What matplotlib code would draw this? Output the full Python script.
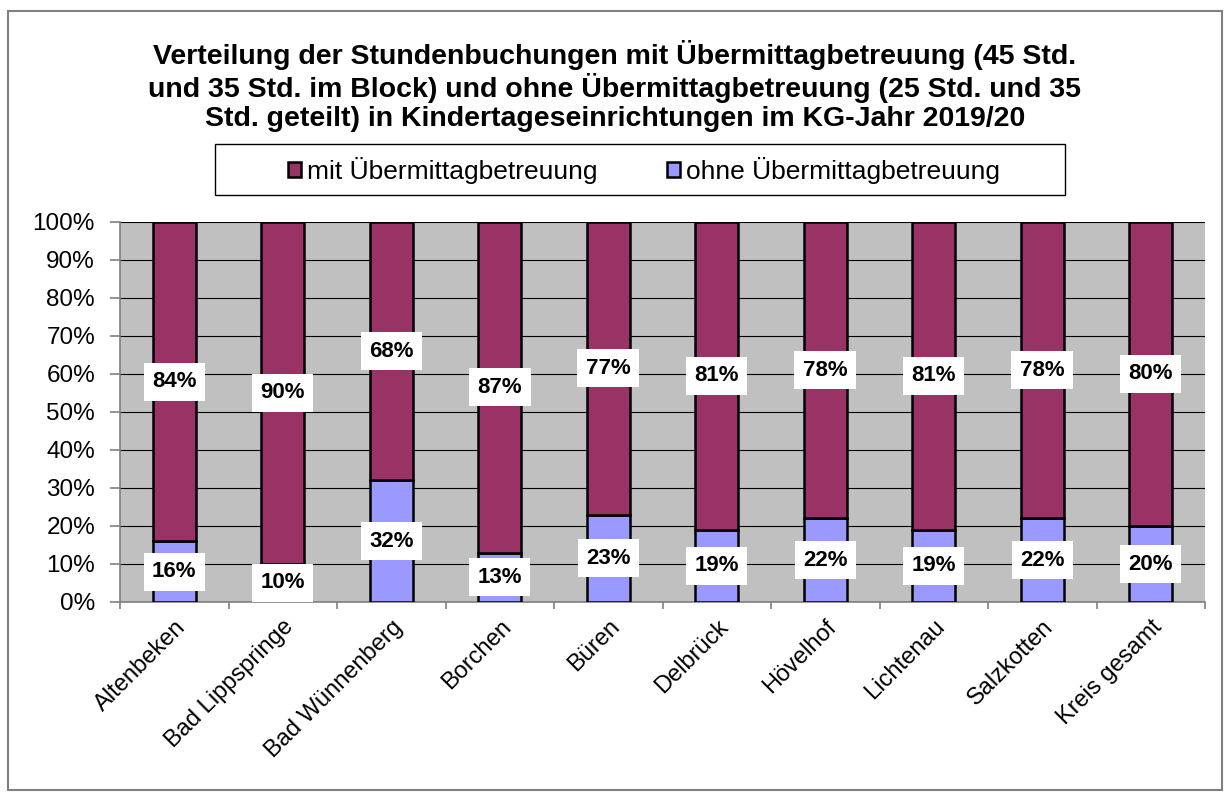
import numpy as np
import matplotlib
matplotlib.use("Agg")
import matplotlib.pyplot as plt
from matplotlib.patches import Rectangle

plt.rcParams['font.family'] = ['Liberation Sans', 'DejaVu Sans']

# data
gemeinden = ["Altenbeken", "Bad Lippspringe", "Bad Wünnenberg", "Borchen", "Büren",
             "Delbrück", "Hövelhof", "Lichtenau", "Salzkotten", "Kreis gesamt"]
ohne = [16, 10, 32, 13, 23, 19, 22, 19, 22, 20]
mit = [84, 90, 68, 87, 77, 81, 78, 81, 78, 80]
serien = ["mit Übermittagbetreuung", "ohne Übermittagbetreuung"]
titel = ("Verteilung der Stundenbuchungen mit Übermittagbetreuung (45 Std.\n"
         "und 35 Std. im Block) und ohne Übermittagbetreuung (25 Std. und 35\n"
         "Std. geteilt) in Kindertageseinrichtungen im KG-Jahr 2019/20")

c_mit = "#993366"
c_ohne = "#9999FF"

W, H = 1231, 801
fig = plt.figure(figsize=(W / 100, H / 100), dpi=100)
# outer chart border
fig.patches.append(Rectangle((8 / W, 11 / H), 1214 / W, 779 / H,
                             transform=fig.transFigure, fill=False,
                             edgecolor="#808080", linewidth=1.5))
# legend box
fig.patches.append(Rectangle((215 / W, 1 - 195 / H), 850 / W, 51 / H,
                             transform=fig.transFigure, fill=False,
                             edgecolor="black", linewidth=1.0))

ax = fig.add_axes([120 / W, 1 - 602 / H, 1085 / W, 380 / H])
ax.set_facecolor("#C0C0C0")

x = np.arange(len(gemeinden))
b1 = ax.bar(x, ohne, width=0.4, color=c_ohne, edgecolor="black", linewidth=1.8,
            label=serien[1], zorder=3)
b2 = ax.bar(x, mit, width=0.4, bottom=ohne, color=c_mit, edgecolor="black",
            linewidth=1.8, label=serien[0], zorder=3)

for i in range(len(gemeinden)):
    for val, y in ((ohne[i], ohne[i] / 2), (mit[i], ohne[i] + mit[i] / 2)):
        ax.text(x[i], y, f"{val}%", ha="center", va="center", fontsize=16,
                fontweight="bold", zorder=5,
                bbox=dict(boxstyle="square,pad=0.38", facecolor="white",
                          edgecolor="none"))

ax.set_xlim(-0.5, len(gemeinden) - 0.5)
ax.set_ylim(0, 100)
ax.set_yticks(np.arange(0, 101, 10))
ax.set_yticklabels([f"{v}%" for v in range(0, 101, 10)], fontsize=17.5)
ax.yaxis.grid(True, color="black", linewidth=0.8, zorder=1)
ax.set_axisbelow(True)

ax.set_xticks(x)
ax.set_xticklabels(gemeinden, rotation=45, ha="right", rotation_mode="anchor",
                   fontsize=17)
ax.tick_params(axis="x", length=0, pad=10)
ax.set_xticks(np.arange(-0.5, len(gemeinden), 1), minor=True)
ax.tick_params(axis="x", which="minor", length=5, color="#808080", width=1.2)
ax.tick_params(axis="y", length=7, color="#808080", width=1.2, pad=11)

for s in ("top", "right"):
    ax.spines[s].set_visible(False)
for s in ("left", "bottom"):
    ax.spines[s].set_color("#808080")
    ax.spines[s].set_linewidth(1.2)

fig.text(615 / W, 1 - 86 / H, titel, ha="center", va="center", fontsize=20.5,
         fontweight="bold", linespacing=1.12)

handles = [b2, b1]
leg = fig.legend(handles, serien, loc="center", ncol=2,
                 bbox_to_anchor=(644 / W, 1 - 170 / H), fontsize=19,
                 frameon=False, handlelength=0.5, handleheight=0.5,
                 handletextpad=0.25, columnspacing=2.6, borderpad=0,
                 borderaxespad=0)

fig.savefig("out.png", dpi=100)
